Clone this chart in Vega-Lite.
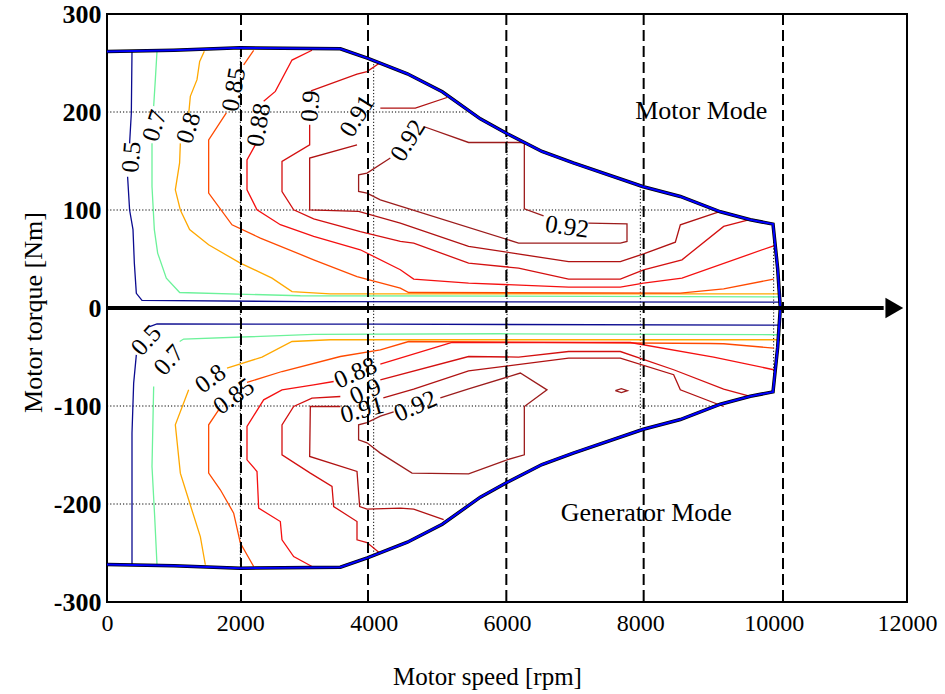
{
  "$schema": "https://vega.github.io/schema/vega-lite/v6.json",
  "width": 800,
  "height": 588,
  "autosize": {"type": "none"},
  "padding": {"left": 107, "top": 14, "right": 38, "bottom": 92},
  "background": "white",
  "config": {
    "view": {"stroke": "black", "strokeWidth": 2},
    "font": "Liberation Serif",
    "axis": {"grid": false, "ticks": false, "domain": false, "labelFont": "Liberation Serif", "titleFont": "Liberation Serif", "labelColor": "black", "titleColor": "black", "titleFontWeight": "normal"},
    "axisX": {"labelFontSize": 24, "labelPadding": 9, "labelFlush": false},
    "axisY": {"labelFontSize": 26, "labelFontWeight": "bold", "labelPadding": 6}
  },
  "datasets": {
    "grid": [
      {"id": "gh200", "s": 0, "t": 200}, {"id": "gh200", "s": 5430, "t": 200},
      {"id": "gh100", "s": 0, "t": 100}, {"id": "gh100", "s": 9140, "t": 100},
      {"id": "ghm100", "s": 0, "t": -100}, {"id": "ghm100", "s": 9140, "t": -100},
      {"id": "ghm200", "s": 0, "t": -200}, {"id": "ghm200", "s": 5430, "t": -200},
      {"id": "gv2000", "s": 2000, "t": -265}, {"id": "gv2000", "s": 2000, "t": 265},
      {"id": "gv4000", "s": 4000, "t": -252}, {"id": "gv4000", "s": 4000, "t": 252},
      {"id": "gv6000", "s": 6000, "t": -177}, {"id": "gv6000", "s": 6000, "t": 177},
      {"id": "gv8000", "s": 8000, "t": -125}, {"id": "gv8000", "s": 8000, "t": 125},
      {"id": "gv10000", "s": 10000, "t": -84}, {"id": "gv10000", "s": 10000, "t": 84}
    ],
    "contours": [
      {"id": "u05a", "l": "0.5", "s": 375, "t": 262}, {"id": "u05a", "l": "0.5", "s": 365, "t": 199}, {"id": "u05a", "l": "0.5", "s": 339, "t": 168},
      {"id": "u05b", "l": "0.5", "s": 309, "t": 134}, {"id": "u05b", "l": "0.5", "s": 339, "t": 100}, {"id": "u05b", "l": "0.5", "s": 390, "t": 80}, {"id": "u05b", "l": "0.5", "s": 410, "t": 46}, {"id": "u05b", "l": "0.5", "s": 440, "t": 15}, {"id": "u05b", "l": "0.5", "s": 525, "t": 7.7}, {"id": "u05b", "l": "0.5", "s": 3000, "t": 6.5}, {"id": "u05b", "l": "0.5", "s": 10080, "t": 6},
      {"id": "u07a", "l": "0.7", "s": 750, "t": 262}, {"id": "u07a", "l": "0.7", "s": 725, "t": 233}, {"id": "u07a", "l": "0.7", "s": 700, "t": 206},
      {"id": "u07b", "l": "0.7", "s": 675, "t": 168}, {"id": "u07b", "l": "0.7", "s": 675, "t": 124}, {"id": "u07b", "l": "0.7", "s": 710, "t": 80}, {"id": "u07b", "l": "0.7", "s": 760, "t": 56}, {"id": "u07b", "l": "0.7", "s": 890, "t": 30.5}, {"id": "u07b", "l": "0.7", "s": 1090, "t": 15.8}, {"id": "u07b", "l": "0.7", "s": 2900, "t": 12.5}, {"id": "u07b", "l": "0.7", "s": 10090, "t": 11.4},
      {"id": "u08a", "l": "0.8", "s": 1460, "t": 262}, {"id": "u08a", "l": "0.8", "s": 1390, "t": 251.5}, {"id": "u08a", "l": "0.8", "s": 1350, "t": 233}, {"id": "u08a", "l": "0.8", "s": 1250, "t": 216}, {"id": "u08a", "l": "0.8", "s": 1224, "t": 197},
      {"id": "u08b", "l": "0.8", "s": 1100, "t": 168}, {"id": "u08b", "l": "0.8", "s": 1089, "t": 148}, {"id": "u08b", "l": "0.8", "s": 1025, "t": 120.6}, {"id": "u08b", "l": "0.8", "s": 1100, "t": 100}, {"id": "u08b", "l": "0.8", "s": 1239, "t": 80}, {"id": "u08b", "l": "0.8", "s": 1524, "t": 64.5}, {"id": "u08b", "l": "0.8", "s": 2000, "t": 45.8}, {"id": "u08b", "l": "0.8", "s": 2475, "t": 30.5}, {"id": "u08b", "l": "0.8", "s": 2775, "t": 16.8}, {"id": "u08b", "l": "0.8", "s": 3350, "t": 14.5}, {"id": "u08b", "l": "0.8", "s": 10100, "t": 14.5},
      {"id": "u085a", "l": "0.85", "s": 2200, "t": 263}, {"id": "u085a", "l": "0.85", "s": 2050, "t": 248},
      {"id": "u085b", "l": "0.85", "s": 1790, "t": 199}, {"id": "u085b", "l": "0.85", "s": 1525, "t": 171.6}, {"id": "u085b", "l": "0.85", "s": 1525, "t": 117.2}, {"id": "u085b", "l": "0.85", "s": 1875, "t": 84.9}, {"id": "u085b", "l": "0.85", "s": 2300, "t": 71.3}, {"id": "u085b", "l": "0.85", "s": 3100, "t": 49.2}, {"id": "u085b", "l": "0.85", "s": 3750, "t": 32.1}, {"id": "u085b", "l": "0.85", "s": 4400, "t": 20.3}, {"id": "u085b", "l": "0.85", "s": 4525, "t": 15.8}, {"id": "u085b", "l": "0.85", "s": 8600, "t": 15.2}, {"id": "u085b", "l": "0.85", "s": 9250, "t": 19.6}, {"id": "u085b", "l": "0.85", "s": 10000, "t": 29.5},
      {"id": "u088a", "l": "0.88", "s": 3075, "t": 263}, {"id": "u088a", "l": "0.88", "s": 2775, "t": 253}, {"id": "u088a", "l": "0.88", "s": 2525, "t": 221}, {"id": "u088a", "l": "0.88", "s": 2350, "t": 211},
      {"id": "u088b", "l": "0.88", "s": 2225, "t": 166.5}, {"id": "u088b", "l": "0.88", "s": 2100, "t": 151}, {"id": "u088b", "l": "0.88", "s": 2100, "t": 120.6}, {"id": "u088b", "l": "0.88", "s": 2250, "t": 100.2}, {"id": "u088b", "l": "0.88", "s": 2600, "t": 85}, {"id": "u088b", "l": "0.88", "s": 3100, "t": 73}, {"id": "u088b", "l": "0.88", "s": 3800, "t": 59.4}, {"id": "u088b", "l": "0.88", "s": 4400, "t": 39}, {"id": "u088b", "l": "0.88", "s": 4600, "t": 29.5}, {"id": "u088b", "l": "0.88", "s": 5424, "t": 25.4}, {"id": "u088b", "l": "0.88", "s": 6924, "t": 21.3}, {"id": "u088b", "l": "0.88", "s": 7700, "t": 21.3}, {"id": "u088b", "l": "0.88", "s": 8049, "t": 25.4}, {"id": "u088b", "l": "0.88", "s": 8625, "t": 30.5}, {"id": "u088b", "l": "0.88", "s": 10000, "t": 63.5},
      {"id": "u09a", "l": "0.9", "s": 4090, "t": 250}, {"id": "u09a", "l": "0.9", "s": 3900, "t": 241.3}, {"id": "u09a", "l": "0.9", "s": 3750, "t": 238.7}, {"id": "u09a", "l": "0.9", "s": 3060, "t": 221.6},
      {"id": "u09b", "l": "0.9", "s": 3040, "t": 187}, {"id": "u09b", "l": "0.9", "s": 3040, "t": 166.5}, {"id": "u09b", "l": "0.9", "s": 2625, "t": 149.5}, {"id": "u09b", "l": "0.9", "s": 2625, "t": 118.9}, {"id": "u09b", "l": "0.9", "s": 2800, "t": 100.2}, {"id": "u09b", "l": "0.9", "s": 3100, "t": 91}, {"id": "u09b", "l": "0.9", "s": 3800, "t": 78}, {"id": "u09b", "l": "0.9", "s": 4400, "t": 67.9}, {"id": "u09b", "l": "0.9", "s": 4600, "t": 66.2}, {"id": "u09b", "l": "0.9", "s": 5424, "t": 45.8}, {"id": "u09b", "l": "0.9", "s": 6174, "t": 40.7}, {"id": "u09b", "l": "0.9", "s": 6924, "t": 29.5}, {"id": "u09b", "l": "0.9", "s": 7700, "t": 29.5}, {"id": "u09b", "l": "0.9", "s": 8049, "t": 39}, {"id": "u09b", "l": "0.9", "s": 8625, "t": 49.2}, {"id": "u09b", "l": "0.9", "s": 9250, "t": 83.2}, {"id": "u09b", "l": "0.9", "s": 9624, "t": 90},
      {"id": "u091a", "l": "0.91", "s": 5100, "t": 214.8}, {"id": "u091a", "l": "0.91", "s": 4625, "t": 204}, {"id": "u091a", "l": "0.91", "s": 4100, "t": 204},
      {"id": "u091b", "l": "0.91", "s": 3750, "t": 166.5}, {"id": "u091b", "l": "0.91", "s": 3040, "t": 153}, {"id": "u091b", "l": "0.91", "s": 3040, "t": 100.2}, {"id": "u091b", "l": "0.91", "s": 3774, "t": 98.5}, {"id": "u091b", "l": "0.91", "s": 4400, "t": 86.6}, {"id": "u091b", "l": "0.91", "s": 5424, "t": 62.8}, {"id": "u091b", "l": "0.91", "s": 6924, "t": 47.4}, {"id": "u091b", "l": "0.91", "s": 7700, "t": 47.4}, {"id": "u091b", "l": "0.91", "s": 8049, "t": 55.3}, {"id": "u091b", "l": "0.91", "s": 8525, "t": 67.2}, {"id": "u091b", "l": "0.91", "s": 8600, "t": 84.9}, {"id": "u091b", "l": "0.91", "s": 9200, "t": 98.5},
      {"id": "u092a", "l": "0.92", "s": 4250, "t": 153}, {"id": "u092a", "l": "0.92", "s": 3900, "t": 137.7}, {"id": "u092a", "l": "0.92", "s": 3774, "t": 135.9}, {"id": "u092a", "l": "0.92", "s": 3774, "t": 118.9}, {"id": "u092a", "l": "0.92", "s": 3900, "t": 117.2}, {"id": "u092a", "l": "0.92", "s": 4100, "t": 110.4}, {"id": "u092a", "l": "0.92", "s": 6174, "t": 66.2}, {"id": "u092a", "l": "0.92", "s": 7700, "t": 66.2}, {"id": "u092a", "l": "0.92", "s": 7800, "t": 67.9}, {"id": "u092a", "l": "0.92", "s": 7800, "t": 85.9}, {"id": "u092a", "l": "0.92", "s": 7220, "t": 86.6},
      {"id": "u092b", "l": "0.92", "s": 6549, "t": 94.1}, {"id": "u092b", "l": "0.92", "s": 6260, "t": 101.2}, {"id": "u092b", "l": "0.92", "s": 6260, "t": 168.3}, {"id": "u092b", "l": "0.92", "s": 6174, "t": 168.9}, {"id": "u092b", "l": "0.92", "s": 5424, "t": 168.9}, {"id": "u092b", "l": "0.92", "s": 4749, "t": 185.2},
      {"id": "l05a", "l": "0.5", "s": 10080, "t": -17.5}, {"id": "l05a", "l": "0.5", "s": 4000, "t": -16.5}, {"id": "l05a", "l": "0.5", "s": 750, "t": -16.3}, {"id": "l05a", "l": "0.5", "s": 640, "t": -19},
      {"id": "l05b", "l": "0.5", "s": 440, "t": -47.8}, {"id": "l05b", "l": "0.5", "s": 400, "t": -76.6}, {"id": "l05b", "l": "0.5", "s": 375, "t": -127.6}, {"id": "l05b", "l": "0.5", "s": 375, "t": -262},
      {"id": "l07a", "l": "0.7", "s": 10100, "t": -27.3}, {"id": "l07a", "l": "0.7", "s": 5900, "t": -26.3}, {"id": "l07a", "l": "0.7", "s": 3100, "t": -27}, {"id": "l07a", "l": "0.7", "s": 1150, "t": -31.7}, {"id": "l07a", "l": "0.7", "s": 1090, "t": -34.2},
      {"id": "l07b", "l": "0.7", "s": 700, "t": -80.1}, {"id": "l07b", "l": "0.7", "s": 675, "t": -161.7}, {"id": "l07b", "l": "0.7", "s": 715, "t": -212.8}, {"id": "l07b", "l": "0.7", "s": 750, "t": -262},
      {"id": "l08a", "l": "0.8", "s": 10100, "t": -32.4}, {"id": "l08a", "l": "0.8", "s": 3350, "t": -32.4}, {"id": "l08a", "l": "0.8", "s": 2775, "t": -34.2}, {"id": "l08a", "l": "0.8", "s": 2325, "t": -50.1}, {"id": "l08a", "l": "0.8", "s": 1800, "t": -61.3},
      {"id": "l08b", "l": "0.8", "s": 1225, "t": -83.5}, {"id": "l08b", "l": "0.8", "s": 1025, "t": -119.2}, {"id": "l08b", "l": "0.8", "s": 1100, "t": -168.5}, {"id": "l08b", "l": "0.8", "s": 1225, "t": -195.7}, {"id": "l08b", "l": "0.8", "s": 1400, "t": -233.2}, {"id": "l08b", "l": "0.8", "s": 1475, "t": -262},
      {"id": "l085a", "l": "0.85", "s": 10000, "t": -40.9}, {"id": "l085a", "l": "0.85", "s": 9250, "t": -36.5}, {"id": "l085a", "l": "0.85", "s": 9050, "t": -36.2}, {"id": "l085a", "l": "0.85", "s": 4525, "t": -34.2}, {"id": "l085a", "l": "0.85", "s": 4100, "t": -42.7}, {"id": "l085a", "l": "0.85", "s": 3500, "t": -49.5}, {"id": "l085a", "l": "0.85", "s": 2625, "t": -64.8}, {"id": "l085a", "l": "0.85", "s": 2100, "t": -76},
      {"id": "l085b", "l": "0.85", "s": 1675, "t": -103.9}, {"id": "l085b", "l": "0.85", "s": 1525, "t": -119.2}, {"id": "l085b", "l": "0.85", "s": 1525, "t": -168.5}, {"id": "l085b", "l": "0.85", "s": 1700, "t": -185.5}, {"id": "l085b", "l": "0.85", "s": 1900, "t": -209.3}, {"id": "l085b", "l": "0.85", "s": 2000, "t": -239.9}, {"id": "l085b", "l": "0.85", "s": 2200, "t": -263.8},
      {"id": "l088a", "l": "0.88", "s": 3075, "t": -263.8}, {"id": "l088a", "l": "0.88", "s": 2800, "t": -253.6}, {"id": "l088a", "l": "0.88", "s": 2625, "t": -236.5}, {"id": "l088a", "l": "0.88", "s": 2600, "t": -217.9}, {"id": "l088a", "l": "0.88", "s": 2275, "t": -204.2}, {"id": "l088a", "l": "0.88", "s": 2250, "t": -166.8}, {"id": "l088a", "l": "0.88", "s": 2100, "t": -154.9}, {"id": "l088a", "l": "0.88", "s": 2100, "t": -120.9}, {"id": "l088a", "l": "0.88", "s": 2350, "t": -93.7}, {"id": "l088a", "l": "0.88", "s": 2625, "t": -83.5}, {"id": "l088a", "l": "0.88", "s": 3100, "t": -78.4}, {"id": "l088a", "l": "0.88", "s": 3400, "t": -75},
      {"id": "l088b", "l": "0.88", "s": 4100, "t": -57.3}, {"id": "l088b", "l": "0.88", "s": 5175, "t": -35.2}, {"id": "l088b", "l": "0.88", "s": 7850, "t": -35.2}, {"id": "l088b", "l": "0.88", "s": 9100, "t": -50.1}, {"id": "l088b", "l": "0.88", "s": 10000, "t": -63},
      {"id": "l09a", "l": "0.9", "s": 4090, "t": -249.9}, {"id": "l09a", "l": "0.9", "s": 3900, "t": -239.3}, {"id": "l09a", "l": "0.9", "s": 3750, "t": -236.5}, {"id": "l09a", "l": "0.9", "s": 3750, "t": -217.9}, {"id": "l09a", "l": "0.9", "s": 3400, "t": -202.6}, {"id": "l09a", "l": "0.9", "s": 3375, "t": -182.1}, {"id": "l09a", "l": "0.9", "s": 3050, "t": -168.5}, {"id": "l09a", "l": "0.9", "s": 2625, "t": -149.8}, {"id": "l09a", "l": "0.9", "s": 2625, "t": -119.2}, {"id": "l09a", "l": "0.9", "s": 2800, "t": -100.5}, {"id": "l09a", "l": "0.9", "s": 3075, "t": -91.9}, {"id": "l09a", "l": "0.9", "s": 3500, "t": -90.3},
      {"id": "l09b", "l": "0.9", "s": 4100, "t": -73.3}, {"id": "l09b", "l": "0.9", "s": 5424, "t": -49.5}, {"id": "l09b", "l": "0.9", "s": 6174, "t": -50.1}, {"id": "l09b", "l": "0.9", "s": 6924, "t": -44.4}, {"id": "l09b", "l": "0.9", "s": 7700, "t": -44.4}, {"id": "l09b", "l": "0.9", "s": 8500, "t": -63}, {"id": "l09b", "l": "0.9", "s": 9250, "t": -82.8}, {"id": "l09b", "l": "0.9", "s": 9650, "t": -90.3},
      {"id": "l091a", "l": "0.91", "s": 5050, "t": -216}, {"id": "l091a", "l": "0.91", "s": 4600, "t": -205.2}, {"id": "l091a", "l": "0.91", "s": 4400, "t": -204.2}, {"id": "l091a", "l": "0.91", "s": 3900, "t": -205.2}, {"id": "l091a", "l": "0.91", "s": 3790, "t": -202.6}, {"id": "l091a", "l": "0.91", "s": 3750, "t": -166.8}, {"id": "l091a", "l": "0.91", "s": 3040, "t": -151.5}, {"id": "l091a", "l": "0.91", "s": 3050, "t": -100.5}, {"id": "l091a", "l": "0.91", "s": 3500, "t": -100.5},
      {"id": "l091b", "l": "0.91", "s": 4145, "t": -91.6}, {"id": "l091b", "l": "0.91", "s": 4600, "t": -82.8}, {"id": "l091b", "l": "0.91", "s": 5424, "t": -64.1}, {"id": "l091b", "l": "0.91", "s": 6924, "t": -51.1}, {"id": "l091b", "l": "0.91", "s": 7700, "t": -51.1}, {"id": "l091b", "l": "0.91", "s": 8500, "t": -68.1}, {"id": "l091b", "l": "0.91", "s": 8600, "t": -83.5}, {"id": "l091b", "l": "0.91", "s": 9250, "t": -100.5},
      {"id": "l092a", "l": "0.92", "s": 4300, "t": -106}, {"id": "l092a", "l": "0.92", "s": 4100, "t": -110.4}, {"id": "l092a", "l": "0.92", "s": 3900, "t": -117}, {"id": "l092a", "l": "0.92", "s": 3774, "t": -119.2}, {"id": "l092a", "l": "0.92", "s": 3774, "t": -134.5}, {"id": "l092a", "l": "0.92", "s": 3900, "t": -137.6}, {"id": "l092a", "l": "0.92", "s": 4100, "t": -148.1}, {"id": "l092a", "l": "0.92", "s": 4575, "t": -168.5}, {"id": "l092a", "l": "0.92", "s": 5424, "t": -169.2}, {"id": "l092a", "l": "0.92", "s": 6000, "t": -154.9}, {"id": "l092a", "l": "0.92", "s": 6260, "t": -149.8}, {"id": "l092a", "l": "0.92", "s": 6260, "t": -100.5}, {"id": "l092a", "l": "0.92", "s": 6600, "t": -83.5}, {"id": "l092a", "l": "0.92", "s": 6200, "t": -66.4}, {"id": "l092a", "l": "0.92", "s": 5424, "t": -82.6}, {"id": "l092a", "l": "0.92", "s": 5000, "t": -91.6},
      {"id": "l092d", "l": "0.92", "s": 7625, "t": -84.4}, {"id": "l092d", "l": "0.92", "s": 7715, "t": -82.4}, {"id": "l092d", "l": "0.92", "s": 7805, "t": -84.4}, {"id": "l092d", "l": "0.92", "s": 7715, "t": -86.3}, {"id": "l092d", "l": "0.92", "s": 7625, "t": -84.4}
    ],
    "envelope": [
      {"s": 0, "t": 261.7}, {"s": 1000, "t": 263}, {"s": 2000, "t": 265.5}, {"s": 3500, "t": 264.5}, {"s": 3905, "t": 255}, {"s": 4505, "t": 239}, {"s": 5030, "t": 220.6}, {"s": 5600, "t": 193}, {"s": 6005, "t": 177.8}, {"s": 6525, "t": 159.7}, {"s": 6995, "t": 148}, {"s": 8045, "t": 123.7}, {"s": 8600, "t": 113.8}, {"s": 9200, "t": 98.2}, {"s": 9650, "t": 90}, {"s": 9990, "t": 85.6}, {"s": 10060, "t": 40}, {"s": 10100, "t": 0},
      {"s": 10060, "t": -40}, {"s": 9990, "t": -85.6}, {"s": 9650, "t": -90}, {"s": 9200, "t": -98.2}, {"s": 8600, "t": -113.8}, {"s": 8045, "t": -123.7}, {"s": 6995, "t": -148}, {"s": 6525, "t": -159.7}, {"s": 6005, "t": -177.8}, {"s": 5600, "t": -193}, {"s": 5030, "t": -220.6}, {"s": 4505, "t": -239}, {"s": 3905, "t": -255}, {"s": 3500, "t": -264.5}, {"s": 2000, "t": -265.5}, {"s": 1000, "t": -263}, {"s": 0, "t": -261.7}
    ],
    "dashed": [{"s": 2010}, {"s": 3915}, {"s": 5990}, {"s": 8050}, {"s": 10140}],
    "arrow": [{"s": 0, "t": 0}, {"s": 11650, "t": 0}],
    "arrowhead": [{"s": 11810, "t": 0}],
    "labels": [
      {"k": "u05", "txt": "0.5", "s": 365, "t": 154},
      {"k": "u07", "txt": "0.7", "s": 711, "t": 186},
      {"k": "u08", "txt": "0.8", "s": 1222, "t": 184},
      {"k": "u085", "txt": "0.85", "s": 1900, "t": 223},
      {"k": "u088", "txt": "0.88", "s": 2275, "t": 187},
      {"k": "u09", "txt": "0.9", "s": 3050, "t": 206},
      {"k": "u091", "txt": "0.91", "s": 3750, "t": 196},
      {"k": "u092a", "txt": "0.92", "s": 4512, "t": 171},
      {"k": "u092b", "txt": "0.92", "s": 6900, "t": 83},
      {"k": "l05", "txt": "0.5", "s": 587, "t": -33},
      {"k": "l07", "txt": "0.7", "s": 925, "t": -53},
      {"k": "l08", "txt": "0.8", "s": 1550, "t": -72},
      {"k": "l085", "txt": "0.85", "s": 1900, "t": -90},
      {"k": "l088", "txt": "0.88", "s": 3725, "t": -66},
      {"k": "l09", "txt": "0.9", "s": 3875, "t": -85},
      {"k": "l092", "txt": "0.92", "s": 4625, "t": -100},
      {"k": "l091", "txt": "0.91", "s": 3825, "t": -104}
    ],
    "modes": [
      {"txt": "Motor Mode", "s": 8915, "t": 201},
      {"txt": "Generator Mode", "s": 8090, "t": -209}
    ]
  },
  "layer": [
    {
      "data": {"name": "grid"},
      "mark": {"type": "line", "color": "black", "strokeWidth": 1, "strokeDash": [1.2, 2]},
      "encoding": {
        "x": {"field": "s", "type": "quantitative", "scale": {"domain": [0, 12000], "nice": false, "zero": false}, "axis": {"values": [0, 2000, 4000, 6000, 8000, 10000, 12000], "format": "d", "title": "Motor speed [rpm]", "titleFontSize": 25, "titleX": 380, "titleY": 74, "titleBaseline": "middle", "titleAlign": "center"}},
        "y": {"field": "t", "type": "quantitative", "scale": {"domain": [-300, 300], "nice": false, "zero": false}, "axis": {"values": [-300, -200, -100, 0, 100, 200, 300], "labelExpr": "datum.value < 0 ? '-' + abs(datum.value) : '' + datum.value", "title": "Motor torque [Nm]", "titleFontSize": 26, "titleX": -74, "titleY": 298, "titleAngle": -90, "titleBaseline": "middle", "titleAlign": "center"}},
        "detail": {"field": "id"},
        "order": {"value": null}
      }
    },
    {
      "data": {"name": "contours"},
      "mark": {"type": "line", "strokeWidth": 1.3},
      "encoding": {
        "x": {"field": "s", "type": "quantitative", "title": "Motor speed [rpm]"},
        "y": {"field": "t", "type": "quantitative", "title": "Motor torque [Nm]"},
        "detail": {"field": "id"},
        "color": {"field": "l", "type": "nominal", "legend": null, "scale": {"domain": ["0.5", "0.7", "0.8", "0.85", "0.88", "0.9", "0.91", "0.92"], "range": ["#0b0b8f", "#6cf29a", "#ffa800", "#ff4a00", "#f51010", "#d41010", "#b01212", "#9c1c1c"]}},
        "order": {"value": null}
      }
    },
    {
      "data": {"name": "dashed"},
      "mark": {"type": "rule", "color": "black", "strokeWidth": 2, "strokeDash": [11, 5]},
      "encoding": {
        "x": {"field": "s", "type": "quantitative", "title": "Motor speed [rpm]"}
      }
    },
    {
      "data": {"name": "envelope"},
      "mark": {"type": "line", "color": "black", "strokeWidth": 3.5},
      "encoding": {
        "x": {"field": "s", "type": "quantitative", "title": "Motor speed [rpm]"},
        "y": {"field": "t", "type": "quantitative", "title": "Motor torque [Nm]"},
        "order": {"value": null}
      }
    },
    {
      "data": {"name": "envelope"},
      "mark": {"type": "line", "color": "#0000ff", "strokeWidth": 2},
      "encoding": {
        "x": {"field": "s", "type": "quantitative", "title": "Motor speed [rpm]"},
        "y": {"field": "t", "type": "quantitative", "title": "Motor torque [Nm]"},
        "order": {"value": null}
      }
    },
    {
      "data": {"name": "arrow"},
      "mark": {"type": "line", "color": "black", "strokeWidth": 4},
      "encoding": {
        "x": {"field": "s", "type": "quantitative", "title": "Motor speed [rpm]"},
        "y": {"field": "t", "type": "quantitative", "title": "Motor torque [Nm]"}
      }
    },
    {
      "data": {"name": "arrowhead"},
      "mark": {"type": "point", "shape": "triangle-right", "filled": true, "color": "black", "size": 420, "opacity": 1},
      "encoding": {
        "x": {"field": "s", "type": "quantitative", "title": "Motor speed [rpm]"},
        "y": {"field": "t", "type": "quantitative", "title": "Motor torque [Nm]"}
      }
    },
    {
      "data": {"name": "labels"},
      "transform": [{"filter": {"field": "k", "oneOf": ["u05", "u09"]}}],
      "mark": {"type": "text", "angle": -85, "fontSize": 25, "font": "Liberation Serif", "color": "black", "align": "center", "baseline": "middle"},
      "encoding": {"x": {"field": "s", "type": "quantitative", "title": "Motor speed [rpm]"}, "y": {"field": "t", "type": "quantitative", "title": "Motor torque [Nm]"}, "text": {"field": "txt"}}
    },
    {
      "data": {"name": "labels"},
      "transform": [{"filter": {"field": "k", "oneOf": ["u085", "u088"]}}],
      "mark": {"type": "text", "angle": -80, "fontSize": 25, "font": "Liberation Serif", "color": "black", "align": "center", "baseline": "middle"},
      "encoding": {"x": {"field": "s", "type": "quantitative", "title": "Motor speed [rpm]"}, "y": {"field": "t", "type": "quantitative", "title": "Motor torque [Nm]"}, "text": {"field": "txt"}}
    },
    {
      "data": {"name": "labels"},
      "transform": [{"filter": {"field": "k", "oneOf": ["u07", "u08"]}}],
      "mark": {"type": "text", "angle": -72, "fontSize": 25, "font": "Liberation Serif", "color": "black", "align": "center", "baseline": "middle"},
      "encoding": {"x": {"field": "s", "type": "quantitative", "title": "Motor speed [rpm]"}, "y": {"field": "t", "type": "quantitative", "title": "Motor torque [Nm]"}, "text": {"field": "txt"}}
    },
    {
      "data": {"name": "labels"},
      "transform": [{"filter": {"field": "k", "oneOf": ["u091", "u092a"]}}],
      "mark": {"type": "text", "angle": -58, "fontSize": 25, "font": "Liberation Serif", "color": "black", "align": "center", "baseline": "middle"},
      "encoding": {"x": {"field": "s", "type": "quantitative", "title": "Motor speed [rpm]"}, "y": {"field": "t", "type": "quantitative", "title": "Motor torque [Nm]"}, "text": {"field": "txt"}}
    },
    {
      "data": {"name": "labels"},
      "transform": [{"filter": {"field": "k", "oneOf": ["u092b"]}}],
      "mark": {"type": "text", "angle": 8, "fontSize": 25, "font": "Liberation Serif", "color": "black", "align": "center", "baseline": "middle"},
      "encoding": {"x": {"field": "s", "type": "quantitative", "title": "Motor speed [rpm]"}, "y": {"field": "t", "type": "quantitative", "title": "Motor torque [Nm]"}, "text": {"field": "txt"}}
    },
    {
      "data": {"name": "labels"},
      "transform": [{"filter": {"field": "k", "oneOf": ["l05", "l07"]}}],
      "mark": {"type": "text", "angle": -48, "fontSize": 25, "font": "Liberation Serif", "color": "black", "align": "center", "baseline": "middle"},
      "encoding": {"x": {"field": "s", "type": "quantitative", "title": "Motor speed [rpm]"}, "y": {"field": "t", "type": "quantitative", "title": "Motor torque [Nm]"}, "text": {"field": "txt"}}
    },
    {
      "data": {"name": "labels"},
      "transform": [{"filter": {"field": "k", "oneOf": ["l08", "l085"]}}],
      "mark": {"type": "text", "angle": -36, "fontSize": 25, "font": "Liberation Serif", "color": "black", "align": "center", "baseline": "middle"},
      "encoding": {"x": {"field": "s", "type": "quantitative", "title": "Motor speed [rpm]"}, "y": {"field": "t", "type": "quantitative", "title": "Motor torque [Nm]"}, "text": {"field": "txt"}}
    },
    {
      "data": {"name": "labels"},
      "transform": [{"filter": {"field": "k", "oneOf": ["l088", "l09", "l092"]}}],
      "mark": {"type": "text", "angle": -24, "fontSize": 25, "font": "Liberation Serif", "color": "black", "align": "center", "baseline": "middle"},
      "encoding": {"x": {"field": "s", "type": "quantitative", "title": "Motor speed [rpm]"}, "y": {"field": "t", "type": "quantitative", "title": "Motor torque [Nm]"}, "text": {"field": "txt"}}
    },
    {
      "data": {"name": "labels"},
      "transform": [{"filter": {"field": "k", "oneOf": ["l091"]}}],
      "mark": {"type": "text", "angle": -15, "fontSize": 25, "font": "Liberation Serif", "color": "black", "align": "center", "baseline": "middle"},
      "encoding": {"x": {"field": "s", "type": "quantitative", "title": "Motor speed [rpm]"}, "y": {"field": "t", "type": "quantitative", "title": "Motor torque [Nm]"}, "text": {"field": "txt"}}
    },
    {
      "data": {"name": "modes"},
      "mark": {"type": "text", "fontSize": 26, "font": "Liberation Serif", "color": "black", "align": "center", "baseline": "middle"},
      "encoding": {"x": {"field": "s", "type": "quantitative", "title": "Motor speed [rpm]"}, "y": {"field": "t", "type": "quantitative", "title": "Motor torque [Nm]"}, "text": {"field": "txt"}}
    }
  ]
}
